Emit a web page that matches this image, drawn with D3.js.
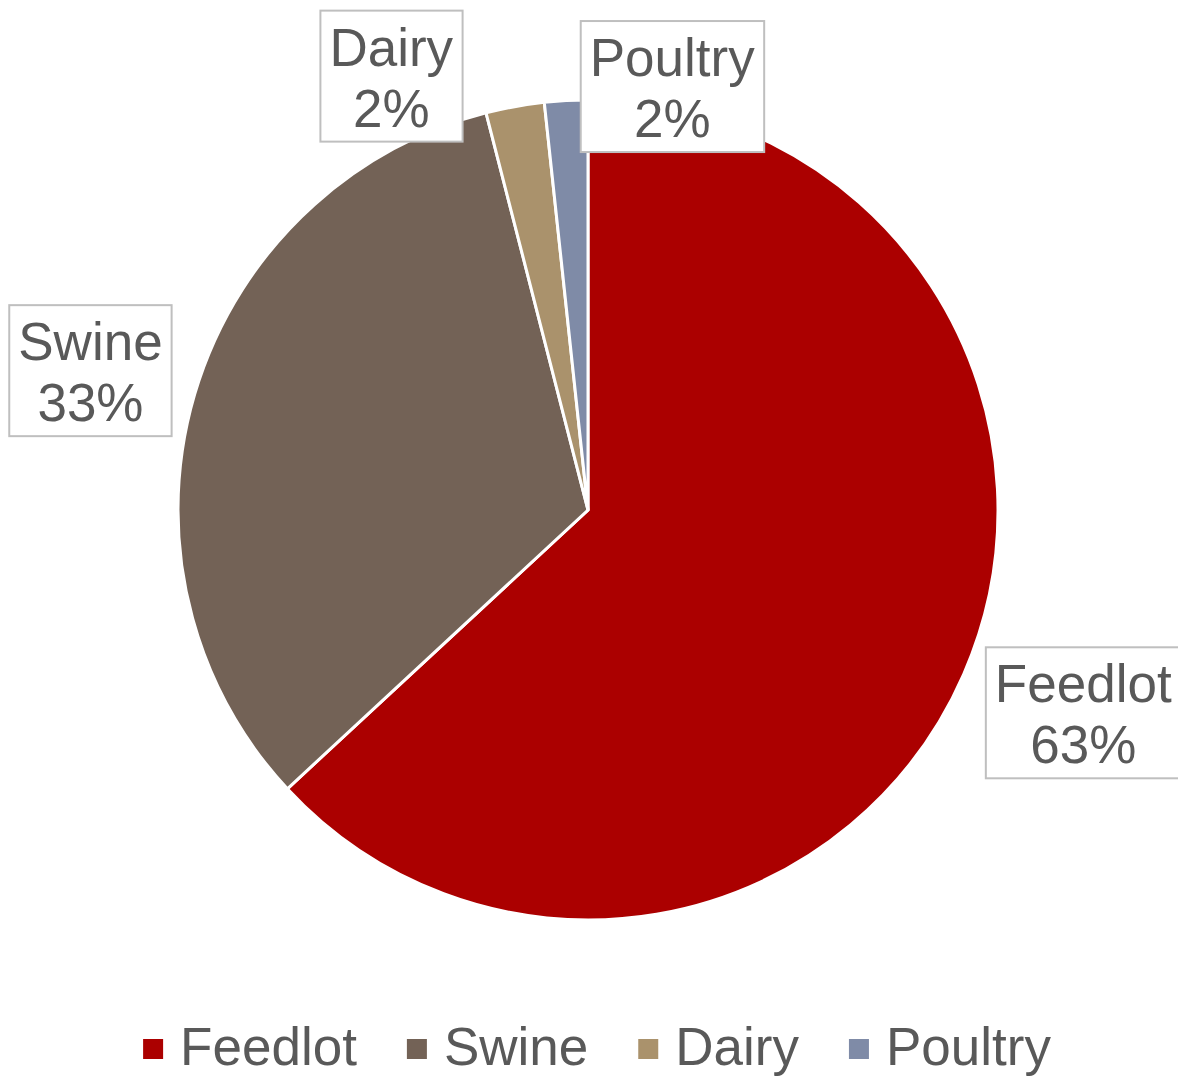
<!DOCTYPE html>
<html>
<head>
<meta charset="utf-8">
<script src="https://cdn.jsdelivr.net/npm/d3@7"></script>
<style>
  body { margin: 0; background: #fff; }
  svg { display: block; font-family: "Liberation Sans", Arial, sans-serif; }
</style>
</head>
<body>
<div id="chart"></div>
<script>
(() => {
  const width = 1178;
  const height = 1079;

  // data
  const categories = ["Feedlot", "Swine", "Dairy", "Poultry"];
  const shares = [63.1, 32.9, 2.3, 1.7];
  const pctLabels = ["63%", "33%", "2%", "2%"];
  const colors = ["#ab0000", "#736256", "#aa926c", "#7f8ba7"];

  // label nudges so the small ones don't collide (like excel does)
  const labelNudge = [[18, -5], [2, 8], [-104, 79], [112, 97]];

  const cx = 588, cy = 510, r = 410;
  const fontSize = 53;

  const color = d3.scaleOrdinal().domain(categories).range(colors);

  const data = categories.map((c, i) => ({ name: c, value: shares[i], pct: pctLabels[i], i }));

  const pie = d3.pie().sort(null).value(d => d.value);
  const arcs = pie(data);
  const arc = d3.arc().innerRadius(0).outerRadius(r);
  const labelArc = d3.arc().innerRadius(r * 1.27).outerRadius(r * 1.27);

  const svg = d3.select("#chart").append("svg")
    .attr("width", width)
    .attr("height", height);

  const g = svg.append("g").attr("transform", `translate(${cx},${cy})`);

  g.selectAll("path")
    .data(arcs)
    .join("path")
    .attr("d", arc)
    .attr("fill", d => color(d.data.name))
    .attr("stroke", "#fff")
    .attr("stroke-width", 3)
    .attr("stroke-linejoin", "miter");

  // data labels with boxes
  const lab = g.selectAll("g.lab")
    .data(arcs)
    .join("g")
    .attr("class", "lab")
    .attr("transform", d => {
      const [x, y] = labelArc.centroid(d);
      const n = labelNudge[d.data.i];
      return `translate(${x + n[0]},${y + n[1]})`;
    });

  lab.append("rect")
    .attr("fill", "#fff")
    .attr("stroke", "#bfbfbf")
    .attr("stroke-width", 2);

  const txt = lab.append("text")
    .attr("text-anchor", "middle")
    .attr("fill", "#595959")
    .attr("font-size", fontSize);
  txt.append("tspan").attr("x", 0).attr("y", -11).text(d => d.data.name);
  txt.append("tspan").attr("x", 0).attr("y", 50).text(d => d.data.pct);

  lab.each(function () {
    const t = d3.select(this).select("text").node().getBBox();
    d3.select(this).select("rect")
      .attr("x", t.x - 9)
      .attr("y", -66)
      .attr("width", t.width + 18)
      .attr("height", 131);
  });

  // legend
  const legend = svg.append("g");
  const sq = 20, gap = 17, itemGap = 50;
  let x = 0;
  data.forEach(d => {
    const it = legend.append("g").attr("transform", `translate(${x},0)`);
    it.append("rect")
      .attr("x", 0).attr("y", -26)
      .attr("width", sq).attr("height", sq)
      .attr("fill", color(d.name));
    const t = it.append("text")
      .attr("x", sq + gap).attr("y", 0)
      .attr("fill", "#595959")
      .attr("font-size", 53)
      .text(d.name);
    x += sq + gap + t.node().getComputedTextLength() + itemGap;
  });
  const total = x - itemGap;
  legend.attr("transform", `translate(${597 - total / 2},1065)`);
})();
</script>
</body>
</html>
